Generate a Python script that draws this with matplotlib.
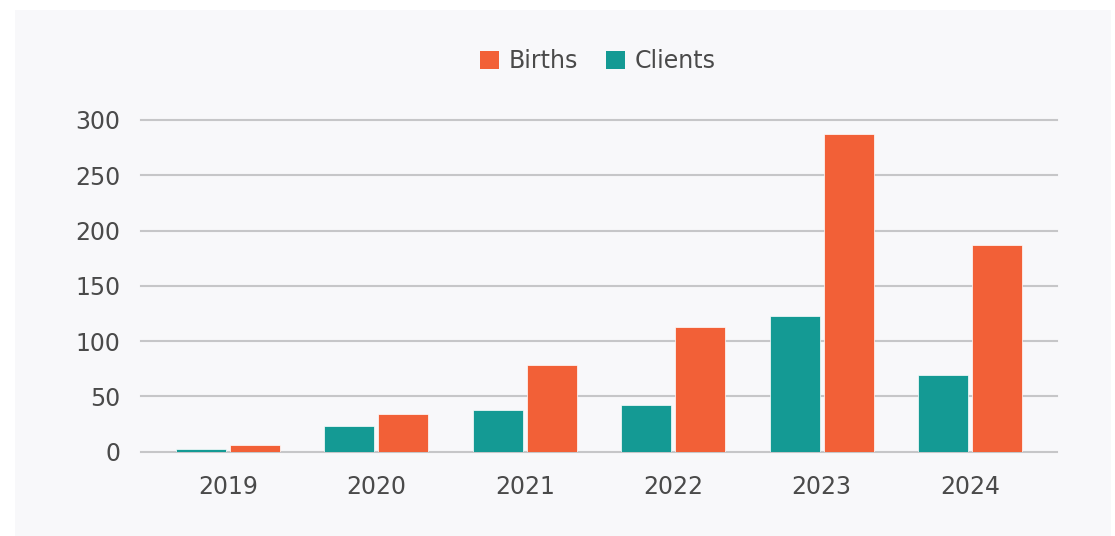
import matplotlib
matplotlib.use("Agg")
from matplotlib import pyplot as plt
from matplotlib.patches import Rectangle, Patch
import numpy as np

years = ["2019", "2020", "2021", "2022", "2023", "2024"]
clients = [2.5, 23.5, 38, 42, 122.5, 69.5]
births = [6, 34, 78.5, 113, 287.5, 186.5]

teal = "#149a94"
orange = "#f26037"
text_col = "#4a4a4a"

plt.rcParams['font.family'] = ['DejaVu Sans']

fig = plt.figure(figsize=(11.15, 5.36), dpi=100)
fig.patch.set_facecolor("white")
# light panel behind the chart
fig.patches.append(Rectangle((15 / 1115, 0), 1096 / 1115, 526 / 536, transform=fig.transFigure,
                             facecolor="#f8f8fa", edgecolor="none", zorder=-10))

ax = fig.add_axes([141 / 1115, 84.3 / 536, 916 / 1115, (451.7 - 120) / 536])
ax.set_facecolor("none")

x = np.arange(len(years))
w = 0.337
off = 0.182
ax.bar(x - off, clients, w, color=teal, edgecolor="white", linewidth=0.5, zorder=3)
ax.bar(x + off, births, w, color=orange, edgecolor="white", linewidth=0.5, zorder=3)

ax.set_xlim(-0.586, 5.586)
ax.set_ylim(0, 300)
ax.set_yticks(range(0, 301, 50))
ax.set_xticks(x)
ax.set_xticklabels(years)
ax.yaxis.grid(True, color="#c6c6c8", linewidth=1.5, zorder=0)
for gl in ax.get_ygridlines():
    gl.set_clip_on(False)
ax.set_axisbelow(True)
for s in ax.spines.values():
    s.set_visible(False)
ax.tick_params(axis="both", length=0, labelsize=17, colors=text_col)
ax.tick_params(axis="y", pad=15)
ax.tick_params(axis="x", pad=17)

handles = [Patch(facecolor=orange, edgecolor="none"), Patch(facecolor=teal, edgecolor="none")]
fig.legend(handles, ["Births", "Clients"], loc="center", bbox_to_anchor=(598 / 1115, 1 - 61 / 536),
           ncol=2, frameon=False, fontsize=17, labelcolor=text_col, handlelength=0.8, handleheight=0.8,
           handletextpad=0.4, columnspacing=1.2)

plt.savefig("out.png", dpi=100, facecolor="white")
